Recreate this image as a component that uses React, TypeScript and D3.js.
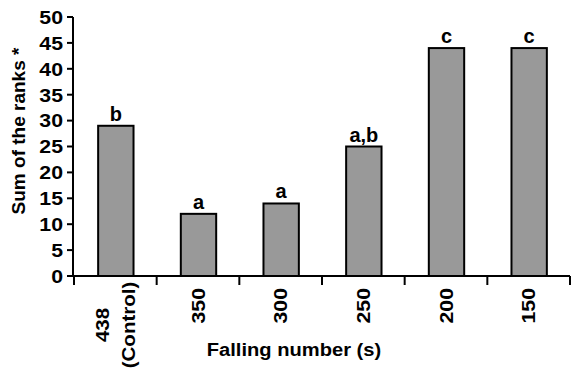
import React from "react";
import * as d3 from "d3";

const categories: string[][] = [["438", "(Control)"], ["350"], ["300"], ["250"], ["200"], ["150"]];
const values: number[] = [29, 12, 14, 25, 44, 44];
const letters: string[] = ["b", "a", "a", "a,b", "c", "c"];
const yTicks: number[] = [0, 5, 10, 15, 20, 25, 30, 35, 40, 45, 50];

const W = 571, H = 369;
const left = 74, right = 570, top = 17, bottom = 276;
const FONT = "'Liberation Sans', Arial, sans-serif";
const FS = 20;

export default function App() {
  const x = d3.scaleBand<number>().domain(d3.range(categories.length)).range([left, right]).paddingInner(0.56).paddingOuter(0.28);
  const y = d3.scaleLinear().domain([0, 50]).range([bottom, top]);
  const boundaries = d3.range(categories.length + 1).map(i => left + i * (right - left) / categories.length);
  return (
    <svg width={W} height={H} style={{ position: "absolute", left: 0, top: 0, background: "#fff" }} fontFamily={FONT} fontWeight="bold">
      {values.map((v, i) => (
        <g key={i}>
          <rect x={x(i)! + 1} y={y(v)} width={x.bandwidth() - 1} height={bottom - y(v)} fill="#999999" stroke="#000" strokeWidth={2} />
          <text x={x(i)! + x.bandwidth() / 2 + 0.5} y={y(v) - 5} textAnchor="middle" fontSize={FS}>{letters[i]}</text>
        </g>
      ))}
      <line x1={73} x2={73} y1={top} y2={bottom + 1} stroke="#000" strokeWidth={2} />
      <line x1={72} x2={right} y1={bottom} y2={bottom} stroke="#000" strokeWidth={2} />
      {yTicks.map(t => (
        <g key={t}>
          <line x1={67} x2={73} y1={y(t)} y2={y(t)} stroke="#000" strokeWidth={2} />
          <text transform={`translate(63,${y(t)}) scale(1.12,1)`} dy="0.36em" textAnchor="end" fontSize={FS - 1}>{t}</text>
        </g>
      ))}
      {boundaries.map((b, i) => (
        <line key={i} x1={b} x2={b} y1={bottom} y2={bottom + 9} stroke="#000" strokeWidth={2} />
      ))}
      {categories.map((lines, i) => {
        const cx = x(i)! + x.bandwidth() / 2 + 0.5;
        const n = lines.length;
        if (n === 1) {
          return (
            <text key={i} transform={`translate(${cx + 6},288) rotate(-90) scale(1.12,1)`} textAnchor="end" fontSize={FS - 1}>{lines[0]}</text>
          );
        }
        return (
          <g key={i}>
            {lines.map((l, j) => {
              const off = (j - (n - 1) / 2) * 26;
              return (
                <text key={j} transform={`translate(${cx + off + 6},325) rotate(-90) scale(1.08,1)`} textAnchor="middle" fontSize={FS - 1}>{l}</text>
              );
            })}
          </g>
        );
      })}
      <text transform="translate(294,356) scale(1.06,1)" textAnchor="middle" fontSize={FS - 1}>Falling number (s)</text>
      <text transform="translate(25,131) rotate(-90)" textAnchor="middle" fontSize={FS - 1}>Sum of the ranks *</text>
    </svg>
  );
}
